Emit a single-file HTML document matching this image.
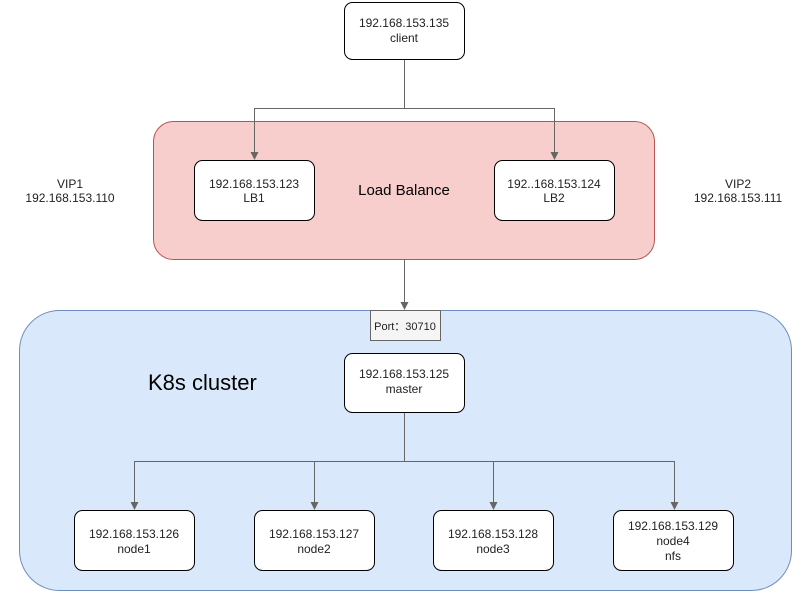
<!DOCTYPE html>
<html><head><style>body{margin:0;background:#fff}</style></head><body>
<svg width="811" height="591" xmlns="http://www.w3.org/2000/svg" font-family="Liberation Sans, Arial, sans-serif">
<rect x="153.5" y="121.5" width="501" height="138" rx="20" fill="#f8cecc" stroke="#b85450"/>
<rect x="19.5" y="310.5" width="772" height="280" rx="40" fill="#dae8fc" stroke="#6c8ebf"/>
<g fill="none" stroke="#666" stroke-width="1">
<path d="M404.5 59V108.5H254.5V153"/>
<path d="M404.5 108.5H554.5V153"/>
<path d="M404.5 259V303"/>
<path d="M404.5 412V461.5H134.5V503"/>
<path d="M404.5 461.5H674.5V503"/>
<path d="M314.5 461.5V503"/>
<path d="M493.5 461.5V503"/>
</g>
<g fill="#666">
<path d="M250.5 152H258.5L254.5 160z"/>
<path d="M550.5 152H558.5L554.5 160z"/>
<path d="M400.5 302H408.5L404.5 310z"/>
<path d="M130.5 502H138.5L134.5 510z"/>
<path d="M310.5 502H318.5L314.5 510z"/>
<path d="M489.5 502H497.5L493.5 510z"/>
<path d="M670.5 502H678.5L674.5 510z"/>
</g>
<g fill="#fff" stroke="#000">
<rect x="344.5" y="2.5" width="120" height="57" rx="8"/>
<rect x="194.5" y="160.5" width="120" height="60" rx="8"/>
<rect x="494.5" y="160.5" width="120" height="60" rx="8"/>
<rect x="344.5" y="353.5" width="120" height="59" rx="8"/>
<rect x="74.5" y="510.5" width="120" height="60" rx="8"/>
<rect x="254.5" y="510.5" width="120" height="60" rx="8"/>
<rect x="433.5" y="510.5" width="120" height="60" rx="8"/>
<rect x="613.5" y="510.5" width="120" height="60" rx="8"/>
</g>
<rect x="370.5" y="310.5" width="70" height="30" fill="#f5f5f5" stroke="#666"/>
<g font-size="12" fill="#222" text-anchor="middle">
<text x="404" y="27">192.168.153.135</text><text x="404" y="42">client</text>
<text x="254" y="188">192.168.153.123</text><text x="254" y="202">LB1</text>
<text x="554" y="188">192..168.153.124</text><text x="554" y="202">LB2</text>
<text x="70" y="188">VIP1</text><text x="70" y="202">192.168.153.110</text>
<text x="738" y="188">VIP2</text><text x="738" y="202">192.168.153.111</text>
<text x="405" y="330" font-size="11">Port：30710</text>
<text x="404" y="378">192.168.153.125</text><text x="404" y="393">master</text>
<text x="134" y="538">192.168.153.126</text><text x="134" y="553">node1</text>
<text x="314" y="538">192.168.153.127</text><text x="314" y="553">node2</text>
<text x="493" y="538">192.168.153.128</text><text x="493" y="553">node3</text>
<text x="673" y="530">192.168.153.129</text><text x="673" y="545">node4</text><text x="673" y="560">nfs</text>
</g>
<text x="404" y="195" font-size="15" text-anchor="middle" fill="#000">Load Balance</text>
<text x="148" y="390" font-size="22" fill="#000">K8s cluster</text>
</svg>
</body></html>
